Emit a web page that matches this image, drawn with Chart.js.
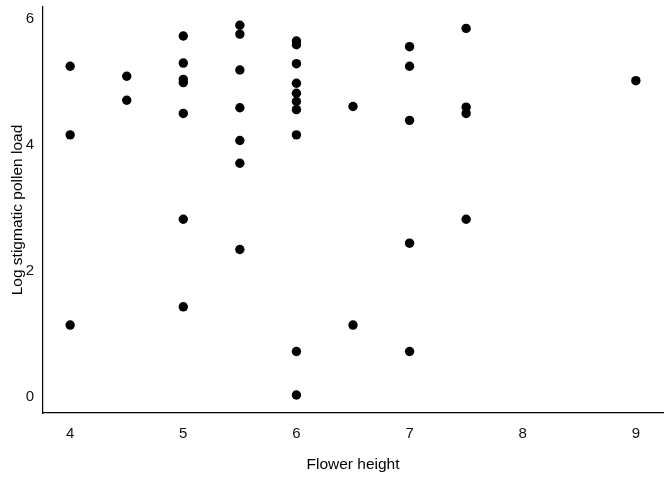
<!DOCTYPE html>
<html>
<head>
<meta charset="utf-8">
<script src="https://cdn.jsdelivr.net/npm/chart.js@4/dist/chart.umd.min.js"></script>
<style>
html,body{margin:0;padding:0;background:#fff;}
#wrap{width:672px;height:480px;}
</style>
</head>
<body>
<div id="wrap"><canvas id="c" width="672" height="480"></canvas></div>
<script>
const flowerHeight = [
  4, 4, 4,
  4.5, 4.5,
  5, 5, 5, 5, 5, 5, 5,
  5.5, 5.5, 5.5, 5.5, 5.5, 5.5, 5.5,
  6, 6, 6, 6, 6, 6, 6, 6, 6, 6,
  6.5, 6.5,
  7, 7, 7, 7, 7,
  7.5, 7.5, 7.5, 7.5,
  9
];
const pollenLoad = [
  5.22, 4.13, 1.11,
  5.06, 4.68,
  5.70, 5.27, 5.01, 4.96, 4.47, 2.79, 1.40,
  5.87, 5.73, 5.16, 4.56, 4.04, 3.68, 2.31,
  5.62, 5.56, 5.26, 4.95, 4.79, 4.66, 4.53, 4.13, 0.69, 0.00,
  4.58, 1.11,
  5.53, 5.22, 4.36, 2.41, 0.69,
  5.82, 4.57, 4.47, 2.79,
  4.99
];
const xTicks = [4, 5, 6, 7, 8, 9];
const yTicks = [0, 2, 4, 6];

const points = flowerHeight.map((x, i) => ({x: x, y: pollenLoad[i]}));
const FONT = '"Liberation Sans", Arial, sans-serif';

new Chart(document.getElementById('c'), {
  type: 'scatter',
  data: {
    datasets: [{
      data: points,
      backgroundColor: '#000',
      borderWidth: 0,
      pointRadius: 4.7,
      pointHoverRadius: 4.7
    }]
  },
  options: {
    responsive: false,
    animation: false,
    events: [],
    layout: {padding: {top: 7, right: 9, left: 0, bottom: 0}},
    plugins: {legend: {display: false}, tooltip: {enabled: false}},
    scales: {
      x: {
        type: 'linear',
        min: 3.76,
        max: 9.24,
        afterBuildTicks: s => { s.ticks = xTicks.map(v => ({value: v})); },
        afterFit: s => { s.height = 67; s.paddingLeft = 0; s.paddingRight = 0; },
        grid: {display: false, drawTicks: false},
        border: {display: true, color: '#000', width: 1.2},
        ticks: {color: '#111', padding: 12, font: {family: FONT, size: 15}},
        title: {display: true, text: 'Flower height', color: '#000', padding: {top: 0, bottom: 6}, font: {family: FONT, size: 15.5}}
      },
      y: {
        type: 'linear',
        min: -0.286,
        max: 6.16,
        afterBuildTicks: s => { s.ticks = yTicks.map(v => ({value: v})); },
        afterFit: s => { s.width = 43; s.paddingTop = 0; s.paddingBottom = 0; },
        grid: {display: false, drawTicks: false},
        border: {display: true, color: '#000', width: 1.2},
        ticks: {color: '#111', padding: 9, labelOffset: 1.5, font: {family: FONT, size: 15}},
        title: {display: true, text: 'Log stigmatic pollen load', color: '#000', padding: {top: 8, bottom: 0}, font: {family: FONT, size: 15.5}}
      }
    }
  }
});
</script>
</body>
</html>
